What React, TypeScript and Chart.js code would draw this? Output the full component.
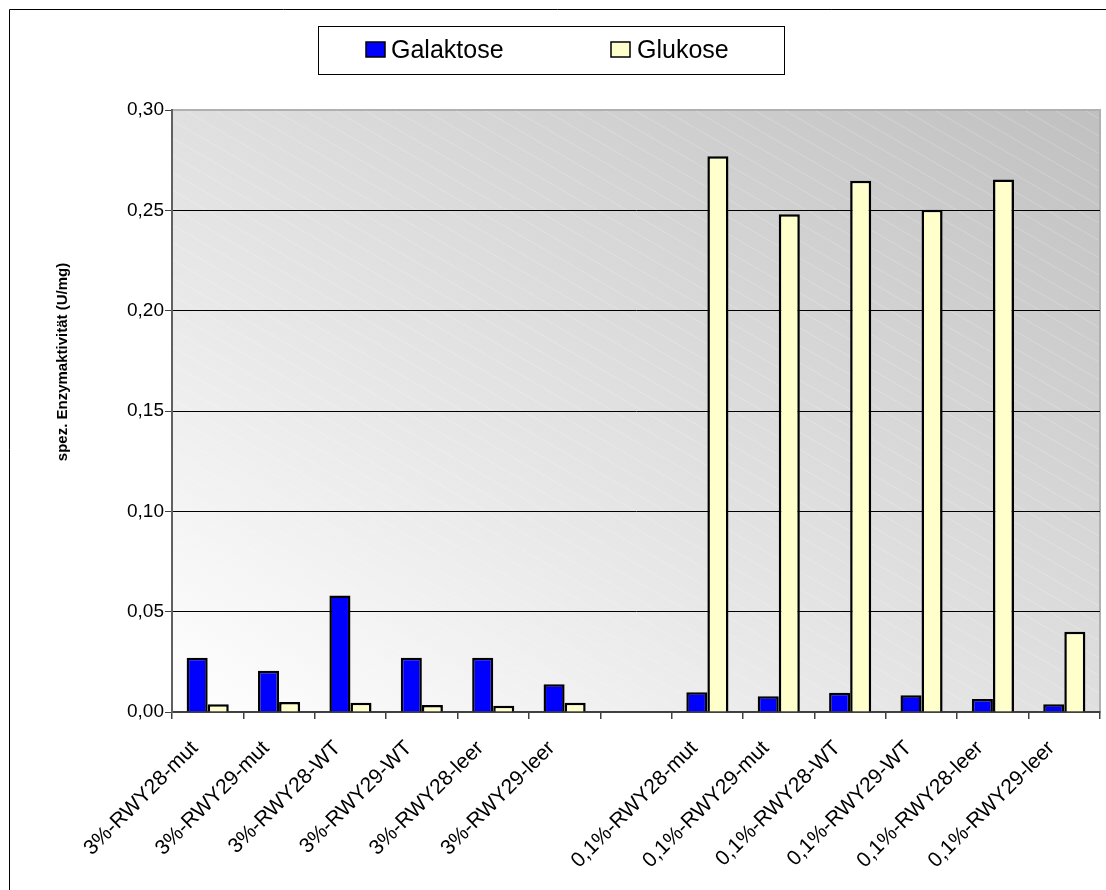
import React, { useEffect, useRef } from "react";
import { Chart, registerables } from "chart.js";

Chart.register(...registerables);

const categories = [
  "3%-RWY28-mut",
  "3%-RWY29-mut",
  "3%-RWY28-WT",
  "3%-RWY29-WT",
  "3%-RWY28-leer",
  "3%-RWY29-leer",
  "",
  "0,1%-RWY28-mut",
  "0,1%-RWY29-mut",
  "0,1%-RWY28-WT",
  "0,1%-RWY29-WT",
  "0,1%-RWY28-leer",
  "0,1%-RWY29-leer",
];

const galaktose = [0.027, 0.0205, 0.058, 0.027, 0.027, 0.0138, null, 0.0098, 0.0078, 0.0096, 0.0083, 0.0065, 0.0038];
const glukose = [0.0038, 0.005, 0.0046, 0.0035, 0.0031, 0.0046, null, 0.277, 0.248, 0.2647, 0.2503, 0.2654, 0.04];

const seriesNames = ["Galaktose", "Glukose"];
const seriesColors = ["#0000ff", "#ffffcc"];
const yTitle = "spez. Enzymaktivität (U/mg)";

const FONT = "'Liberation Sans', Arial, sans-serif";

const decorPlugin = {
  id: "decor",
  beforeDraw(chart: any) {
    const { ctx, chartArea } = chart;
    const { left, right, top, bottom } = chartArea;
    const W = right - left;
    const H = bottom - top;
    ctx.save();
    const d = (2 * W * H) / (W * W + H * H);
    const g = ctx.createLinearGradient(left, bottom, left + H * d, bottom - W * d);
    g.addColorStop(0, "#ffffff");
    g.addColorStop(1, "#c0c0c0");
    ctx.fillStyle = g;
    ctx.fillRect(left, top, W, H);
    ctx.beginPath();
    ctx.rect(left, top, W, H);
    ctx.clip();
    ctx.strokeStyle = "rgba(255,255,255,0.22)";
    ctx.lineWidth = 1;
    const slope = 0.58;
    const span = H / slope;
    for (let c = -span; c < W; c += 30) {
      ctx.beginPath();
      ctx.moveTo(left + c, top);
      ctx.lineTo(left + c + span, bottom);
      ctx.stroke();
    }
    ctx.restore();
    ctx.save();
    ctx.strokeStyle = "#b0b0b0";
    ctx.lineWidth = 2;
    ctx.strokeRect(left, top, W, H);
    ctx.restore();
  },
  afterDraw(chart: any) {
    const { ctx } = chart;
    ctx.save();
    ctx.strokeStyle = "#000";
    ctx.lineWidth = 1;
    ctx.beginPath();
    ctx.moveTo(9.5, 890);
    ctx.lineTo(9.5, 9.5);
    ctx.lineTo(1106, 9.5);
    ctx.stroke();

    ctx.fillStyle = "#ffffff";
    ctx.fillRect(318.5, 26.5, 466, 48);
    ctx.strokeRect(318.5, 26.5, 466, 48);
    const ds = chart.data.datasets;
    const items = [
      { bx: 366, tx: 391 },
      { bx: 611, tx: 637 },
    ];
    ctx.font = `25px ${FONT}`;
    ctx.textBaseline = "alphabetic";
    ctx.textAlign = "left";
    ds.forEach((d: any, i: number) => {
      const it = items[i];
      ctx.fillStyle = d.backgroundColor;
      ctx.fillRect(it.bx, 42, 19, 15);
      ctx.lineWidth = 1.5;
      ctx.strokeStyle = "#000";
      ctx.strokeRect(it.bx, 42, 19, 15);
      ctx.fillStyle = "#000";
      ctx.fillText(d.label, it.tx, 58);
    });

    ctx.translate(63, 362);
    ctx.rotate(-Math.PI / 2);
    ctx.font = `bold 15px ${FONT}`;
    ctx.textAlign = "center";
    ctx.textBaseline = "middle";
    ctx.fillStyle = "#000";
    ctx.fillText(yTitle, 0, 0);
    ctx.restore();
  },
};

export default function App() {
  const ref = useRef<HTMLCanvasElement | null>(null);
  useEffect(() => {
    if (!ref.current) return;
    const chart = new Chart(ref.current, {
      type: "bar",
      data: {
        labels: categories,
        datasets: [
          {
            label: seriesNames[0],
            data: galaktose,
            backgroundColor: seriesColors[0],
            borderColor: "#000",
            borderWidth: 2.5,
            categoryPercentage: 0.59,
            barPercentage: 1,
          },
          {
            label: seriesNames[1],
            data: glukose,
            backgroundColor: seriesColors[1],
            borderColor: "#000",
            borderWidth: 2.5,
            categoryPercentage: 0.59,
            barPercentage: 1,
          },
        ],
      },
      options: {
        animation: false,
        responsive: true,
        maintainAspectRatio: false,
        layout: { padding: { left: 0, right: 6, top: 110, bottom: 0 } },
        plugins: {
          legend: { display: false },
          tooltip: { enabled: false },
          title: { display: false },
        },
        scales: {
          x: {
            grid: {
              offset: true,
              drawOnChartArea: false,
              drawTicks: true,
              tickLength: 7,
              tickColor: "#404040",
              lineWidth: 1.5,
            },
            border: { display: true, color: "#404040", width: 2 },
            ticks: {
              autoSkip: false,
              minRotation: 45,
              maxRotation: 45,
              padding: 17,
              labelOffset: -13,
              color: "#000",
              font: { family: FONT, size: 21 },
            },
            afterFit(scale: any) {
              scale.height = 178;
            },
          },
          y: {
            min: 0,
            max: 0.3,
            ticks: {
              stepSize: 0.05,
              padding: 1,
              color: "#000",
              font: { family: FONT, size: 19 },
              callback: (v: any) => Number(v).toFixed(2).replace(".", ","),
            },
            grid: {
              color: (c: any) => (c.tick && Math.abs(c.tick.value - 0.3) < 1e-9 ? "#b0b0b0" : "#000000"),
              lineWidth: 1,
              tickLength: 7,
              tickColor: "#404040",
            },
            border: { display: true, color: "#606060", width: 2 },
            afterFit(scale: any) {
              scale.width = 172;
            },
          },
        },
      },
      plugins: [decorPlugin],
    });
    return () => chart.destroy();
  }, []);
  return (
    <div style={{ position: "fixed", left: 0, top: 0, width: 1106, height: 890, overflow: "hidden", background: "#fff" }}>
      <canvas ref={ref} />
    </div>
  );
}
